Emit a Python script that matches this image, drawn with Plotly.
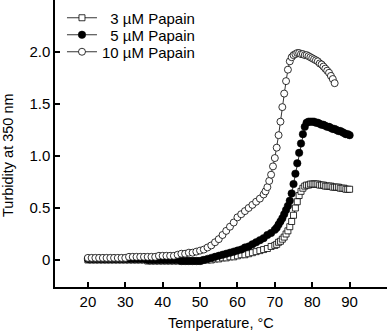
import plotly.graph_objects as go

# ---- data ----
T3 = [20, 21, 22, 23, 24, 25, 26, 27, 28, 29, 30, 31, 32, 33, 34, 35, 36, 37, 38, 39,
      40, 41, 42, 43, 44, 45, 46, 47, 48, 49, 50, 51, 52, 53, 54, 55, 56, 57, 58, 59,
      60, 61, 62, 63, 64, 65, 66, 67, 68, 69, 70, 70.5, 71, 71.5, 72, 72.5, 73, 73.5,
      74, 74.5, 75, 75.5, 76, 76.5, 77, 77.5, 78, 78.5, 79, 79.5, 80, 80.5, 81, 81.5,
      82, 82.5, 83, 83.5, 84, 84.5, 85, 85.5, 86, 86.5, 87, 87.5, 88, 88.5, 89, 89.5, 90]
Y3 = [0.00, 0.00, 0.00, 0.00, 0.00, 0.00, 0.00, 0.00, 0.00, 0.00, 0.00, 0.00, 0.00, 0.00,
      0.00, 0.00, -0.01, -0.01, -0.01, -0.01, -0.01, -0.01, -0.01, -0.01, -0.01, -0.01,
      -0.01, -0.01, -0.01, -0.01, -0.01, 0.00, 0.00, 0.00, 0.01, 0.01, 0.02, 0.02, 0.03,
      0.03, 0.04, 0.05, 0.05, 0.06, 0.07, 0.08, 0.09, 0.10, 0.11, 0.13, 0.14, 0.15, 0.17,
      0.18, 0.20, 0.22, 0.25, 0.28, 0.32, 0.37, 0.43, 0.50, 0.56, 0.62, 0.66, 0.69, 0.71,
      0.72, 0.72, 0.73, 0.73, 0.73, 0.73, 0.73, 0.72, 0.72, 0.72, 0.71, 0.71, 0.71, 0.71,
      0.70, 0.70, 0.70, 0.70, 0.69, 0.69, 0.69, 0.68, 0.68, 0.68]

T5 = [20, 21, 22, 23, 24, 25, 26, 27, 28, 29, 30, 31, 32, 33, 34, 35, 36, 37, 38, 39,
      40, 41, 42, 43, 44, 45, 46, 47, 48, 49, 50, 51, 52, 53, 54, 55, 56, 57, 58, 59,
      60, 61, 62, 63, 64, 65, 66, 67, 68, 69, 70, 70.5, 71, 71.5, 72, 72.5, 73, 73.5,
      74, 74.5, 75, 75.5, 76, 76.5, 77, 77.5, 78, 78.5, 79, 79.5, 80, 80.5, 81, 81.5,
      82, 82.5, 83, 83.5, 84, 84.5, 85, 85.5, 86, 86.5, 87, 87.5, 88, 88.5, 89, 89.5, 90]
Y5 = [0.01, 0.01, 0.01, 0.01, 0.01, 0.01, 0.01, 0.01, 0.01, 0.01, 0.01, 0.01, 0.01, 0.01,
      0.01, 0.01, 0.00, 0.00, 0.00, 0.00, 0.00, 0.00, 0.00, 0.00, 0.00, -0.01, -0.01,
      -0.01, -0.01, -0.01, -0.01, 0.00, 0.01, 0.02, 0.03, 0.04, 0.05, 0.06, 0.07, 0.08,
      0.09, 0.10, 0.12, 0.13, 0.15, 0.17, 0.19, 0.21, 0.24, 0.26, 0.29, 0.31, 0.34, 0.37,
      0.40, 0.44, 0.48, 0.52, 0.57, 0.64, 0.73, 0.83, 0.93, 1.03, 1.12, 1.21, 1.28, 1.32,
      1.33, 1.33, 1.33, 1.33, 1.32, 1.32, 1.31, 1.30, 1.30, 1.29, 1.28, 1.28, 1.27, 1.26,
      1.26, 1.25, 1.24, 1.24, 1.23, 1.22, 1.21, 1.21, 1.20]

T10 = [20, 21, 22, 23, 24, 25, 26, 27, 28, 29, 30, 31, 32, 33, 34, 35, 36, 37, 38, 39,
       40, 41, 42, 43, 44, 45, 46, 47, 48, 49, 50, 51, 52, 53, 54, 55, 56, 57, 58, 59,
       60, 61, 62, 63, 64, 65, 66, 67, 67.5, 68, 68.5, 69, 69.5, 70, 70.5, 71, 71.5, 72,
       72.5, 73, 73.5, 74, 74.5, 75, 75.5, 76, 76.5, 77, 77.5, 78, 78.5, 79, 79.5, 80,
       80.5, 81, 81.5, 82, 82.5, 83, 83.5, 84, 84.5, 85, 85.5, 86]
Y10 = [0.02, 0.02, 0.02, 0.02, 0.02, 0.02, 0.02, 0.02, 0.02, 0.02, 0.02, 0.03, 0.03, 0.03,
       0.03, 0.03, 0.03, 0.03, 0.03, 0.04, 0.04, 0.04, 0.04, 0.04, 0.05, 0.06, 0.06, 0.07,
       0.07, 0.08, 0.09, 0.10, 0.12, 0.14, 0.17, 0.20, 0.24, 0.28, 0.32, 0.36, 0.41, 0.44,
       0.47, 0.50, 0.53, 0.56, 0.59, 0.63, 0.66, 0.70, 0.76, 0.82, 0.90, 0.98, 1.08, 1.20,
       1.33, 1.47, 1.60, 1.72, 1.83, 1.91, 1.95, 1.97, 1.98, 1.99, 1.99, 1.98, 1.98, 1.97,
       1.97, 1.96, 1.95, 1.94, 1.93, 1.92, 1.91, 1.89, 1.88, 1.86, 1.84, 1.82, 1.80, 1.77,
       1.74, 1.70]

NAMES = ["\u20073 \u00b5M Papain", "\u20075 \u00b5M Papain", "10 \u00b5M Papain"]
X_TICKS = [20, 30, 40, 50, 60, 70, 80, 90]
Y_TICKS = [0, 0.5, 1.0, 1.5, 2.0]
Y_TICK_TEXT = ["0", "0.5", "1.0", "1.5", "2.0"]

FONT = "Liberation Sans, Arial, Helvetica, sans-serif"

fig = go.Figure()
fig.add_trace(go.Scatter(
    x=T3, y=Y3, name=NAMES[0], mode="lines+markers", legend="legend",
    line=dict(color="black", width=0.8),
    marker=dict(symbol="square", size=6, color="white", line=dict(color="black", width=0.8)),
))
fig.add_trace(go.Scatter(
    x=T5, y=Y5, name=NAMES[1], mode="lines+markers", legend="legend2",
    line=dict(color="black", width=0.8),
    marker=dict(symbol="circle", size=7.5, color="black", line=dict(color="black", width=0.5)),
))
fig.add_trace(go.Scatter(
    x=T10, y=Y10, name=NAMES[2], mode="lines+markers", legend="legend3",
    line=dict(color="black", width=0.8),
    marker=dict(symbol="circle", size=7, color="white", line=dict(color="black", width=0.8)),
))


def leg(ypix):
    return dict(x=0.021, y=(287 - ypix) / 287, xanchor="left", yanchor="middle",
                bgcolor="rgba(0,0,0,0)", borderwidth=0,
                font=dict(family=FONT, size=15, color="black"),
                itemwidth=30, tracegroupgap=0)


fig.update_layout(
    width=387, height=334,
    margin=dict(l=55, r=0, t=0, b=47),
    paper_bgcolor="white", plot_bgcolor="white",
    font=dict(family=FONT, size=14, color="black"),
    showlegend=True,
    legend=leg(18), legend2=leg(35), legend3=leg(52),
    xaxis=dict(range=[11.2, 100], tickvals=X_TICKS, ticks="inside", ticklen=5,
               tickwidth=1.5, tickcolor="black", showline=True, linecolor="black",
               linewidth=1.5, showgrid=False, zeroline=False, mirror=False,
               tickfont=dict(family=FONT, size=15)),
    yaxis=dict(range=[-0.26, 2.5], tickvals=Y_TICKS, ticktext=Y_TICK_TEXT,
               ticks="inside", ticklen=5, tickwidth=1.5, tickcolor="black",
               showline=True, linecolor="black", linewidth=1.5, showgrid=False,
               zeroline=False, mirror=False, tickfont=dict(family=FONT, size=15)),
    annotations=[
        dict(text="Temperature, \u00b0C", xref="paper", yref="paper", x=0.5, y=-0.1254,
             xanchor="center", yanchor="middle", showarrow=False,
             font=dict(family=FONT, size=14.5)),
        dict(text="Turbidity at 350 nm", xref="paper", yref="paper", x=-0.1416, y=0.46,
             xanchor="center", yanchor="middle", textangle=-90, showarrow=False,
             font=dict(family=FONT, size=14.5)),
    ],
)

fig.write_html("out.html")
